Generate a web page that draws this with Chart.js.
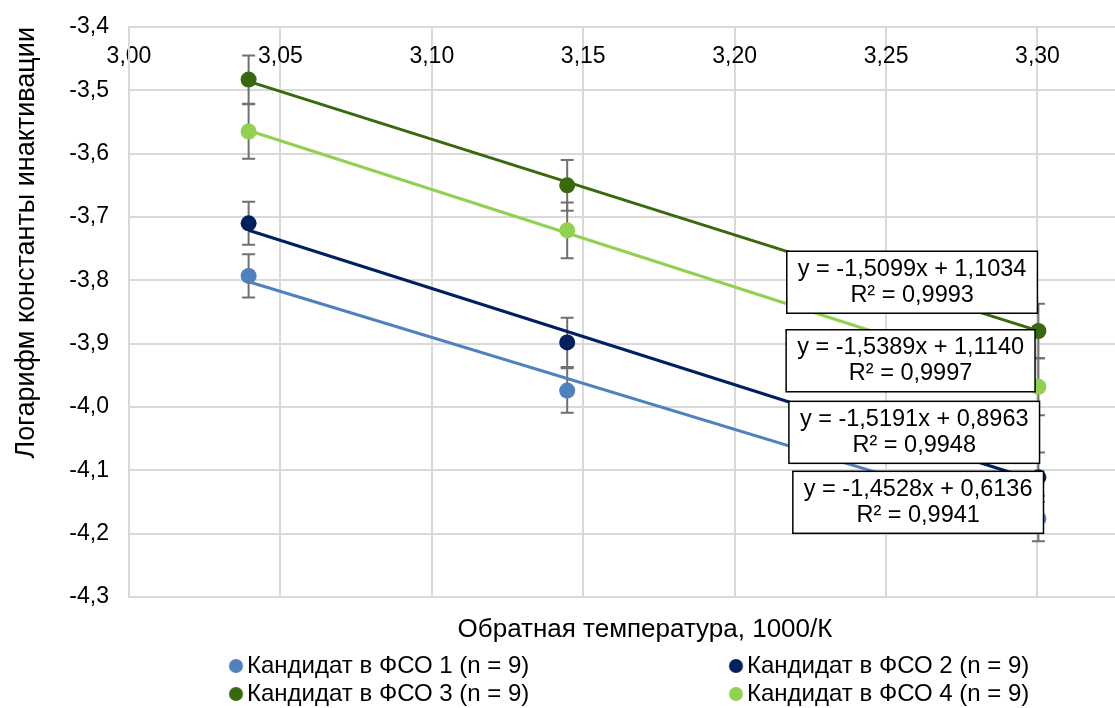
<!DOCTYPE html>
<html>
<head>
<meta charset="utf-8">
<script src="https://cdn.jsdelivr.net/npm/chart.js@4.4.1/dist/chart.umd.min.js"></script>
<style>
  html, body { margin: 0; padding: 0; background: #ffffff; }
  #wrap { width: 1115px; height: 708px; position: relative; }
</style>
</head>
<body>
<div id="wrap"><canvas id="c" width="1115" height="708"></canvas></div>
<script>
// ---------------- DATA ----------------
const xValues = [3.0395, 3.1447, 3.3003];            // 1000/K
const seriesNames = [
  'Кандидат в ФСО 1 (n = 9)',
  'Кандидат в ФСО 2 (n = 9)',
  'Кандидат в ФСО 3 (n = 9)',
  'Кандидат в ФСО 4 (n = 9)'
];
const series1 = [-3.793, -3.974, -4.176];
const series2 = [-3.710, -3.898, -4.111];
const series3 = [-3.483, -3.650, -3.880];
const series4 = [-3.565, -3.721, -3.968];
const errors1 = [0.034, 0.035, 0.036];
const errors2 = [0.034, 0.039, 0.039];
const errors3 = [0.038, 0.040, 0.043];
const errors4 = [0.043, 0.044, 0.045];
const trendSlopes = [-1.4528, -1.5191, -1.5099, -1.5389];
const trendIntercepts = [0.6136, 0.8963, 1.1034, 1.1140];
const trendR2 = [0.9941, 0.9948, 0.9993, 0.9997];
const xTitle = 'Обратная температура, 1000/К';
const yTitle = 'Логарифм константы инактивации';
const xAxisMin = 3.00, xAxisMax = 3.3256, xStep = 0.05;
const yAxisMin = -4.3, yAxisMax = -3.4, yStep = 0.1;

// ---------------- STYLE ----------------
const seriesValues = [series1, series2, series3, series4];
const seriesErrors = [errors1, errors2, errors3, errors4];
const colors = ['#4f81bd', '#002060', '#38690c', '#92d050'];
// equation label anchors (data coordinates of box centres), per series
const eqAnchorX = [3.2606, 3.2593, 3.2586, 3.2581];
const eqAnchorY = [-4.1505, -4.040, -3.803, -3.927];

const FAMILY = "'Liberation Sans', Arial, sans-serif";
const FS_TICK = 23;
const FS_TITLE = 26;
const FS_YTITLE = 27;
const FS_LEG = 24;
const FS_EQ = 23.5;
const GRID = '#d9d9d9';
const X_TITLE_CENTER = 645;
const fmt = (v, d) => v.toFixed(d).replace('.', ',');

// legend geometry: two columns
const mctx = document.createElement('canvas').getContext('2d');
mctx.font = 'normal ' + FS_LEG + 'px ' + FAMILY;
const textW = Math.max(...seriesNames.map(s => mctx.measureText(s).width));
const LEG_PAD = 4;
const COL_STEP = 500;
const TEXT1_X = 247;
const BOXW = COL_STEP - LEG_PAD - FS_LEG / 2 - textW;
const PADL = TEXT1_X - LEG_PAD - BOXW - FS_LEG / 2;
const MR = 7;
function legendMarker(color) {
  const c = document.createElement('canvas');
  const w = Math.ceil(BOXW) + 22;
  c.width = w; c.height = 16;
  const g = c.getContext('2d');
  const cx = BOXW / 2 + w / 2 + (FS_LEG / 2 - 11);
  g.fillStyle = color;
  g.beginPath(); g.arc(cx, 8, MR, 0, Math.PI * 2); g.fill();
  return c;
}
const legendMarkers = colors.map(legendMarker);

// ---------------- DATASETS ----------------
const markerSets = seriesValues.map((vals, i) => ({
  label: seriesNames[i],
  xAxisID: 'xTop',
  data: xValues.map((x, j) => ({ x: x, y: vals[j] })),
  backgroundColor: colors[i],
  borderColor: colors[i],
  pointRadius: 8,
  pointBorderWidth: 0,
  showLine: false,
  order: 0
}));
const trendSets = seriesValues.map((vals, i) => ({
  label: 'trend ' + (i + 1),
  xAxisID: 'xTop',
  data: [xValues[0], xValues[xValues.length - 1]].map(x => ({ x: x, y: trendSlopes[i] * x + trendIntercepts[i] })),
  borderColor: colors[i],
  backgroundColor: colors[i],
  borderWidth: 3,
  pointRadius: 0,
  showLine: true,
  order: 1
}));

// ---------------- PLUGINS ----------------
const errorBars = {
  id: 'errorBars',
  beforeDatasetsDraw(chart) {
    const ctx = chart.ctx, xs = chart.scales.xTop, ys = chart.scales.y;
    ctx.save();
    ctx.strokeStyle = '#707070';
    ctx.lineWidth = 2;
    seriesValues.forEach((vals, i) => {
      vals.forEach((v, j) => {
        const px = xs.getPixelForValue(xValues[j]);
        const pt = ys.getPixelForValue(v + seriesErrors[i][j]);
        const pb = ys.getPixelForValue(v - seriesErrors[i][j]);
        ctx.beginPath();
        ctx.moveTo(px, pt); ctx.lineTo(px, pb);
        ctx.moveTo(px - 6.5, pt); ctx.lineTo(px + 6.5, pt);
        ctx.moveTo(px - 6.5, pb); ctx.lineTo(px + 6.5, pb);
        ctx.stroke();
      });
    });
    ctx.restore();
  }
};
const eqLabels = {
  id: 'eqLabels',
  afterDatasetsDraw(chart) {
    const ctx = chart.ctx, xs = chart.scales.xTop, ys = chart.scales.y;
    ctx.save();
    ctx.font = 'normal ' + FS_EQ + 'px ' + FAMILY;
    ctx.textAlign = 'center';
    ctx.textBaseline = 'middle';
    trendSlopes.forEach((m, i) => {
      const l1 = 'y = ' + fmt(m, 4) + 'x + ' + fmt(trendIntercepts[i], 4);
      const l2 = 'R² = ' + fmt(trendR2[i], 4);
      const w = Math.max(ctx.measureText(l1).width, ctx.measureText(l2).width) + 22;
      const h = 62;
      const cx = xs.getPixelForValue(eqAnchorX[i]);
      const cy = ys.getPixelForValue(eqAnchorY[i]);
      ctx.fillStyle = '#ffffff';
      ctx.fillRect(cx - w / 2, cy - h / 2, w, h);
      ctx.strokeStyle = '#000000';
      ctx.lineWidth = 1.5;
      ctx.strokeRect(cx - w / 2, cy - h / 2, w, h);
      ctx.fillStyle = '#000000';
      ctx.fillText(l1, cx, cy - 13);
      ctx.fillText(l2, cx, cy + 13);
    });
    ctx.restore();
  }
};
// shift the bottom (title-only) axis so its title sits where the reference has it
const titleShift = {
  id: 'titleShift',
  afterLayout(chart) {
    const sx = chart.scales.x;
    sx.left = 2 * X_TITLE_CENTER - sx.right;
  }
};

// ---------------- CHART ----------------
const tickFont = { family: FAMILY, size: FS_TICK };
const titleFont = { family: FAMILY, size: FS_TITLE };
const yTitleFont = { family: FAMILY, size: FS_YTITLE };
new Chart(document.getElementById('c'), {
  type: 'scatter',
  data: { datasets: [...markerSets, ...trendSets] },
  options: {
    responsive: false,
    animation: false,
    devicePixelRatio: 1,
    events: [],
    layout: { autoPadding: false, padding: { left: PADL, right: 0, top: 0, bottom: -8 } },
    scales: {
      x: {
        type: 'linear', position: 'bottom', min: xAxisMin, max: xAxisMax,
        ticks: { display: false },
        grid: { display: false, drawTicks: false },
        border: { display: false },
        title: { display: true, text: xTitle, color: '#000', font: titleFont, padding: { top: 2, bottom: 5 } },
        afterFit: s => { s.height = 53; s.paddingLeft = 0; s.paddingRight = 0; }
      },
      xTop: {
        type: 'linear', position: 'top', min: xAxisMin, max: xAxisMax,
        ticks: {
          stepSize: xStep, includeBounds: false, mirror: true, padding: 16,
          color: '#000', font: tickFont,
          callback: v => fmt(v, 2)
        },
        grid: { color: GRID, lineWidth: 2, drawTicks: false },
        border: { color: GRID, width: 2 },
        afterFit: s => { s.height = 27; s.paddingLeft = 0; s.paddingRight = 0; }
      },
      y: {
        type: 'linear', position: 'left', min: yAxisMin, max: yAxisMax,
        ticks: {
          stepSize: yStep, padding: 20, color: '#000', font: tickFont,
          callback: v => fmt(v, 1)
        },
        grid: { color: GRID, lineWidth: 2, drawTicks: false },
        border: { color: GRID, width: 2 },
        title: { display: true, text: yTitle, color: '#000', font: yTitleFont, align: 'end',
                 padding: { top: 27 - 0.6 * FS_YTITLE - PADL, bottom: 0 } },
        afterFit: s => { s.width = 129 - PADL; s.paddingTop = 0; s.paddingBottom = 0; }
      }
    },
    plugins: {
      tooltip: { enabled: false },
      legend: {
        position: 'bottom',
        align: 'start',
        labels: {
          usePointStyle: true,
          pointStyleWidth: BOXW,
          padding: LEG_PAD,
          color: '#000',
          font: { family: FAMILY, size: FS_LEG },
          generateLabels: () => seriesNames.map((name, i) => ({
            text: name,
            fillStyle: colors[i],
            strokeStyle: colors[i],
            lineWidth: 0,
            pointStyle: legendMarkers[i],
            hidden: false,
            datasetIndex: i,
            fontColor: '#000'
          }))
        }
      }
    }
  },
  plugins: [errorBars, eqLabels, titleShift]
});
</script>
</body>
</html>
